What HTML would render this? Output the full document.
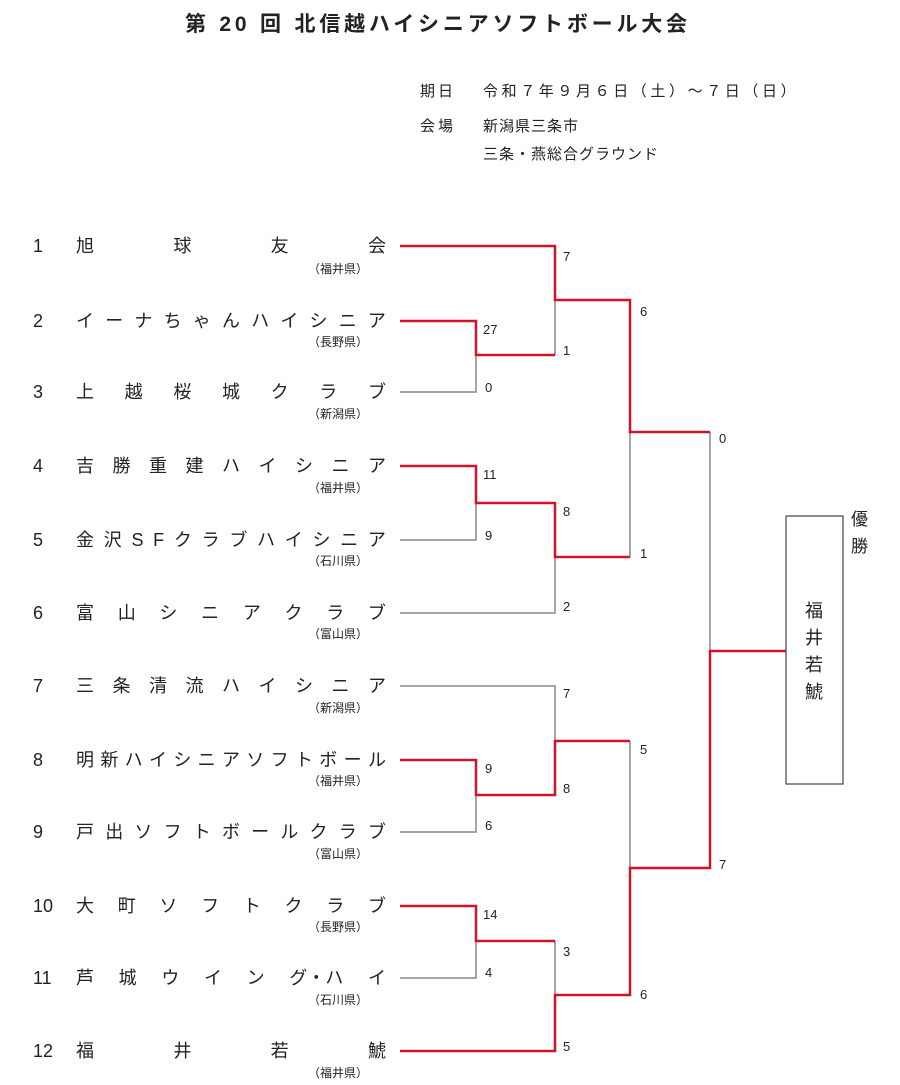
<!DOCTYPE html>
<html><head><meta charset="utf-8">
<style>
body{margin:0;width:900px;height:1085px;background:#fff;position:relative;font-family:"Liberation Sans","Noto Sans CJK JP",sans-serif;color:#222;overflow:hidden}
.t{position:absolute;white-space:nowrap}
.num{position:absolute;left:33px;width:28px;font-size:18px;text-align:left}
.nm{position:absolute;left:76px;width:310px;display:flex;justify-content:space-between;font-size:18px;line-height:20px}
.pr{position:absolute;left:308px;font-size:12px;line-height:14px}
.sc{position:absolute;font-size:13px;line-height:14px}
svg{position:absolute;left:0;top:0}
</style></head><body>
<div class="t" style="left:185px;top:8px;font-size:21px;font-weight:bold;letter-spacing:3.8px">第 20 回 北信越ハイシニアソフトボール大会</div>
<div class="t" style="left:420px;top:80px;font-size:15px;letter-spacing:3px">期日</div>
<div class="t" style="left:483px;top:80px;font-size:15px;letter-spacing:3.6px">令和７年９月６日（土）～７日（日）</div>
<div class="t" style="left:420px;top:115px;font-size:15px;letter-spacing:3px">会場</div>
<div class="t" style="left:483px;top:115px;font-size:15px;letter-spacing:1px">新潟県三条市</div>
<div class="t" style="left:483px;top:143px;font-size:15px;letter-spacing:1px">三条・燕総合グラウンド</div>

<svg width="900" height="1085">
<g fill="none" stroke="#888" stroke-width="1.5">
<polyline points="400,392 476,392 476,355"/>
<polyline points="400,540 476,540 476,503"/>
<polyline points="555,355 555,300"/>
<polyline points="400,613 555,613 555,557"/>
<polyline points="630,557 630,432"/>
<polyline points="400,686 555,686 555,741"/>
<polyline points="400,832 476,832 476,795"/>
<polyline points="630,741 630,868"/>
<polyline points="400,978 476,978 476,941"/>
<polyline points="555,941 555,995"/>
<polyline points="710,432 710,651"/>
</g>
<g fill="none" stroke="#d0122b" stroke-width="2.5">
<polyline points="400,246 555,246 555,300 630,300 630,432 710,432"/>
<polyline points="400,321 476,321 476,355 555,355"/>
<polyline points="400,466 476,466 476,503 555,503 555,557 630,557"/>
<polyline points="400,760 476,760 476,795 555,795 555,741 630,741"/>
<polyline points="400,906 476,906 476,941 555,941"/>
<polyline points="400,1051 555,1051 555,995 630,995 630,868 710,868 710,651 786,651"/>
</g>
<rect x="786" y="516" width="57" height="268" fill="none" stroke="#444" stroke-width="1.2"/>
</svg>

<div class="t" style="left:851px;top:506px;font-size:17px;line-height:27px">優<br>勝</div>
<div class="t" style="left:805px;top:598px;font-size:18px;line-height:27px">福<br>井<br>若<br>鯱</div>

<div class="num" style="top:236px">1</div><div class="nm" style="top:236px"><span>旭</span><span>球</span><span>友</span><span>会</span></div><div class="pr" style="top:262px">（福井県）</div>
<div class="num" style="top:311px">2</div><div class="nm" style="top:311px"><span>イ</span><span>ー</span><span>ナ</span><span>ち</span><span>ゃ</span><span>ん</span><span>ハ</span><span>イ</span><span>シ</span><span>ニ</span><span>ア</span></div><div class="pr" style="top:335px">（長野県）</div>
<div class="num" style="top:382px">3</div><div class="nm" style="top:382px"><span>上</span><span>越</span><span>桜</span><span>城</span><span>ク</span><span>ラ</span><span>ブ</span></div><div class="pr" style="top:407px">（新潟県）</div>
<div class="num" style="top:456px">4</div><div class="nm" style="top:456px"><span>吉</span><span>勝</span><span>重</span><span>建</span><span>ハ</span><span>イ</span><span>シ</span><span>ニ</span><span>ア</span></div><div class="pr" style="top:481px">（福井県）</div>
<div class="num" style="top:530px">5</div><div class="nm" style="top:530px"><span>金</span><span>沢</span><span>S</span><span>F</span><span>ク</span><span>ラ</span><span>ブ</span><span>ハ</span><span>イ</span><span>シ</span><span>ニ</span><span>ア</span></div><div class="pr" style="top:554px">（石川県）</div>
<div class="num" style="top:603px">6</div><div class="nm" style="top:603px"><span>富</span><span>山</span><span>シ</span><span>ニ</span><span>ア</span><span>ク</span><span>ラ</span><span>ブ</span></div><div class="pr" style="top:627px">（富山県）</div>
<div class="num" style="top:676px">7</div><div class="nm" style="top:676px"><span>三</span><span>条</span><span>清</span><span>流</span><span>ハ</span><span>イ</span><span>シ</span><span>ニ</span><span>ア</span></div><div class="pr" style="top:701px">（新潟県）</div>
<div class="num" style="top:750px">8</div><div class="nm" style="top:750px"><span>明</span><span>新</span><span>ハ</span><span>イ</span><span>シ</span><span>ニ</span><span>ア</span><span>ソ</span><span>フ</span><span>ト</span><span>ボ</span><span>ー</span><span>ル</span></div><div class="pr" style="top:774px">（福井県）</div>
<div class="num" style="top:822px">9</div><div class="nm" style="top:822px"><span>戸</span><span>出</span><span>ソ</span><span>フ</span><span>ト</span><span>ボ</span><span>ー</span><span>ル</span><span>ク</span><span>ラ</span><span>ブ</span></div><div class="pr" style="top:847px">（富山県）</div>
<div class="num" style="top:896px">10</div><div class="nm" style="top:896px"><span>大</span><span>町</span><span>ソ</span><span>フ</span><span>ト</span><span>ク</span><span>ラ</span><span>ブ</span></div><div class="pr" style="top:920px">（長野県）</div>
<div class="num" style="top:968px">11</div><div class="nm" style="top:968px"><span>芦</span><span>城</span><span>ウ</span><span>イ</span><span>ン</span><span>グ・ハ</span><span>イ</span></div><div class="pr" style="top:993px">（石川県）</div>
<div class="num" style="top:1041px">12</div><div class="nm" style="top:1041px"><span>福</span><span>井</span><span>若</span><span>鯱</span></div><div class="pr" style="top:1066px">（福井県）</div>

<div class="sc" style="left:563px;top:250px">7</div>
<div class="sc" style="left:563px;top:344px">1</div>
<div class="sc" style="left:483px;top:323px">27</div>
<div class="sc" style="left:485px;top:381px">0</div>
<div class="sc" style="left:483px;top:468px">11</div>
<div class="sc" style="left:485px;top:529px">9</div>
<div class="sc" style="left:563px;top:505px">8</div>
<div class="sc" style="left:563px;top:600px">2</div>
<div class="sc" style="left:640px;top:305px">6</div>
<div class="sc" style="left:640px;top:547px">1</div>
<div class="sc" style="left:719px;top:432px">0</div>
<div class="sc" style="left:563px;top:687px">7</div>
<div class="sc" style="left:485px;top:762px">9</div>
<div class="sc" style="left:563px;top:782px">8</div>
<div class="sc" style="left:485px;top:819px">6</div>
<div class="sc" style="left:640px;top:743px">5</div>
<div class="sc" style="left:483px;top:908px">14</div>
<div class="sc" style="left:485px;top:966px">4</div>
<div class="sc" style="left:563px;top:945px">3</div>
<div class="sc" style="left:563px;top:1040px">5</div>
<div class="sc" style="left:640px;top:988px">6</div>
<div class="sc" style="left:719px;top:858px">7</div>
</body></html>
